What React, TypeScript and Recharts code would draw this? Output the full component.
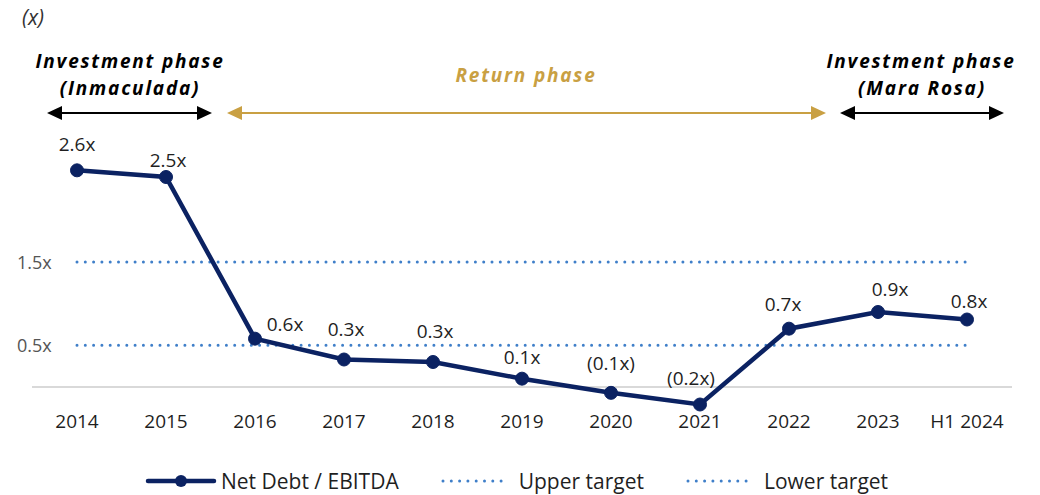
import React from 'react';
import { LineChart, Line, XAxis, YAxis, ReferenceLine, LabelList } from 'recharts';

// === DATA ===
const categories = ['2014', '2015', '2016', '2017', '2018', '2019', '2020', '2021', '2022', '2023', 'H1 2024'];
const netDebtEbitda = [2.6, 2.52, 0.58, 0.33, 0.3, 0.1, -0.07, -0.21, 0.7, 0.9, 0.81];
const upperTarget = [1.5, 1.5, 1.5, 1.5, 1.5, 1.5, 1.5, 1.5, 1.5, 1.5, 1.5];
const lowerTarget = [0.5, 0.5, 0.5, 0.5, 0.5, 0.5, 0.5, 0.5, 0.5, 0.5, 0.5];
const yTicks = [0.5, 1.5];

const chartData = categories.map((name, i) => ({
  name,
  netDebt: netDebtEbitda[i],
  upper: upperTarget[i],
  lower: lowerTarget[i],
}));

// === COLOURS / STYLE ===
const NAVY = '#0b2262';
const GOLD = '#c9a043';
const DOT_BLUE = '#3f7fc9';
const TEXT = '#1f1f1f';
const FONT = '"Open Sans", Lato, sans-serif';

// label nudges (dx, dy from the point), so labels don't sit on the line
const labelNudge: Record<string, [number, number]> = {
  '2014': [0, -26], '2015': [2, -17], '2016': [30, -15], '2017': [2, -31],
  '2018': [2, -31], '2019': [0, -22], '2020': [0, -30], '2021': [-9, -27],
  '2022': [-6, -25], '2023': [12, -23], 'H1 2024': [2, -19],
};

const fmt = (v: number) => (v < 0 ? `(${Math.abs(v).toFixed(1)}x)` : `${v.toFixed(1)}x`);

const ValueLabel = (props: any) => {
  const { x, y, value, index } = props;
  const [dx, dy] = labelNudge[categories[index]] || [0, -24];
  return (
    <text x={x + dx} y={y + dy} textAnchor="middle" dominantBaseline="central"
      fontFamily={FONT} fontSize={19} fill={TEXT}>
      {fmt(value)}
    </text>
  );
};

const YTick = (props: any) => {
  const { y, payload } = props;
  return (
    <text x={17} y={y} dominantBaseline="central" fontFamily={FONT} fontSize={18} fill="#555">
      {payload.value}x
    </text>
  );
};

const Arrow = ({ x1, x2, y, color }: { x1: number; x2: number; y: number; color: string }) => (
  <g>
    <line x1={x1 + 12} x2={x2 - 12} y1={y} y2={y} stroke={color} strokeWidth={2} />
    <polygon points={`${x1},${y} ${x1 + 15},${y - 7} ${x1 + 15},${y + 7}`} fill={color} />
    <polygon points={`${x2},${y} ${x2 - 15},${y - 7} ${x2 - 15},${y + 7}`} fill={color} />
  </g>
);

const phaseText = { fontFamily: FONT, fontSize: 19, fontWeight: 700, fontStyle: 'italic' as const, letterSpacing: 1.8 };

export default function App() {
  return (
    <div style={{ position: 'absolute', left: 0, top: 0, width: 1040, height: 495, background: '#fff' }}>
      <LineChart width={1040} height={495} data={chartData}
        margin={{ top: 137, right: 28, left: 0, bottom: 53 }}>
        <XAxis dataKey="name" axisLine={false} tickLine={false} height={30} tickSize={0} tickMargin={3}
          padding={{ left: 45, right: 45 }}
          tick={{ fill: TEXT, fontSize: 19, fontFamily: FONT }} interval={0} />
        <YAxis type="number" domain={[-0.3, 3.0]} ticks={yTicks} width={32}
          axisLine={false} tickLine={false} tick={<YTick />} allowDataOverflow />
        <ReferenceLine y={0} stroke="#d9d9d9" strokeWidth={2} />
        <Line dataKey="upper" stroke={DOT_BLUE} strokeWidth={3} strokeDasharray="0 8.3"
          strokeLinecap="round" dot={false} isAnimationActive={false} />
        <Line dataKey="lower" stroke={DOT_BLUE} strokeWidth={3} strokeDasharray="0 8.3"
          strokeLinecap="round" dot={false} isAnimationActive={false} />
        <Line dataKey="netDebt" stroke={NAVY} strokeWidth={4.5}
          dot={{ r: 6.5, fill: NAVY, stroke: NAVY, strokeWidth: 1 }} isAnimationActive={false}>
          <LabelList dataKey="netDebt" content={<ValueLabel />} />
        </Line>
      </LineChart>

      {/* phase annotations */}
      <svg width={1040} height={140} style={{ position: 'absolute', left: 0, top: 0, pointerEvents: 'none' }}>
        <text x={22} y={17} dominantBaseline="central" fontFamily={FONT} fontSize={21} fontStyle="italic" fill="#333">(x)</text>
        <text x={130} y={61} textAnchor="middle" dominantBaseline="central" fill="#000" {...phaseText}>Investment phase</text>
        <text x={130} y={88} textAnchor="middle" dominantBaseline="central" fill="#000" {...phaseText}>(Inmaculada)</text>
        <Arrow x1={47} x2={212} y={113} color="#000" />
        <text x={526} y={75} textAnchor="middle" dominantBaseline="central" fill={GOLD} {...phaseText}>Return phase</text>
        <Arrow x1={227} x2={826} y={113} color={GOLD} />
        <text x={921} y={61} textAnchor="middle" dominantBaseline="central" fill="#000" {...phaseText}>Investment phase</text>
        <text x={922} y={88} textAnchor="middle" dominantBaseline="central" fill="#000" {...phaseText}>(Mara Rosa)</text>
        <Arrow x1={840} x2={1004} y={113} color="#000" />
      </svg>

      {/* legend */}
      <div style={{ position: 'absolute', left: 145, top: 467, height: 28, display: 'flex', alignItems: 'center',
        fontFamily: FONT, fontSize: 21, color: TEXT, whiteSpace: 'nowrap' }}>
        <svg width={72} height={16}>
          <line x1={3} x2={69} y1={8} y2={8} stroke={NAVY} strokeWidth={4.5} strokeLinecap="round" />
          <circle cx={36} cy={8} r={6} fill={NAVY} />
        </svg>
        <span style={{ marginLeft: 4 }}>Net Debt / EBITDA</span>
        <svg width={70} height={16} style={{ marginLeft: 42 }}>
          <line x1={2} x2={68} y1={8} y2={8} stroke={DOT_BLUE} strokeWidth={3} strokeDasharray="0 8.3" strokeLinecap="round" />
        </svg>
        <span style={{ marginLeft: 8 }}>Upper target</span>
        <svg width={70} height={16} style={{ marginLeft: 42 }}>
          <line x1={2} x2={68} y1={8} y2={8} stroke={DOT_BLUE} strokeWidth={3} strokeDasharray="0 8.3" strokeLinecap="round" />
        </svg>
        <span style={{ marginLeft: 8 }}>Lower target</span>
      </div>
    </div>
  );
}
